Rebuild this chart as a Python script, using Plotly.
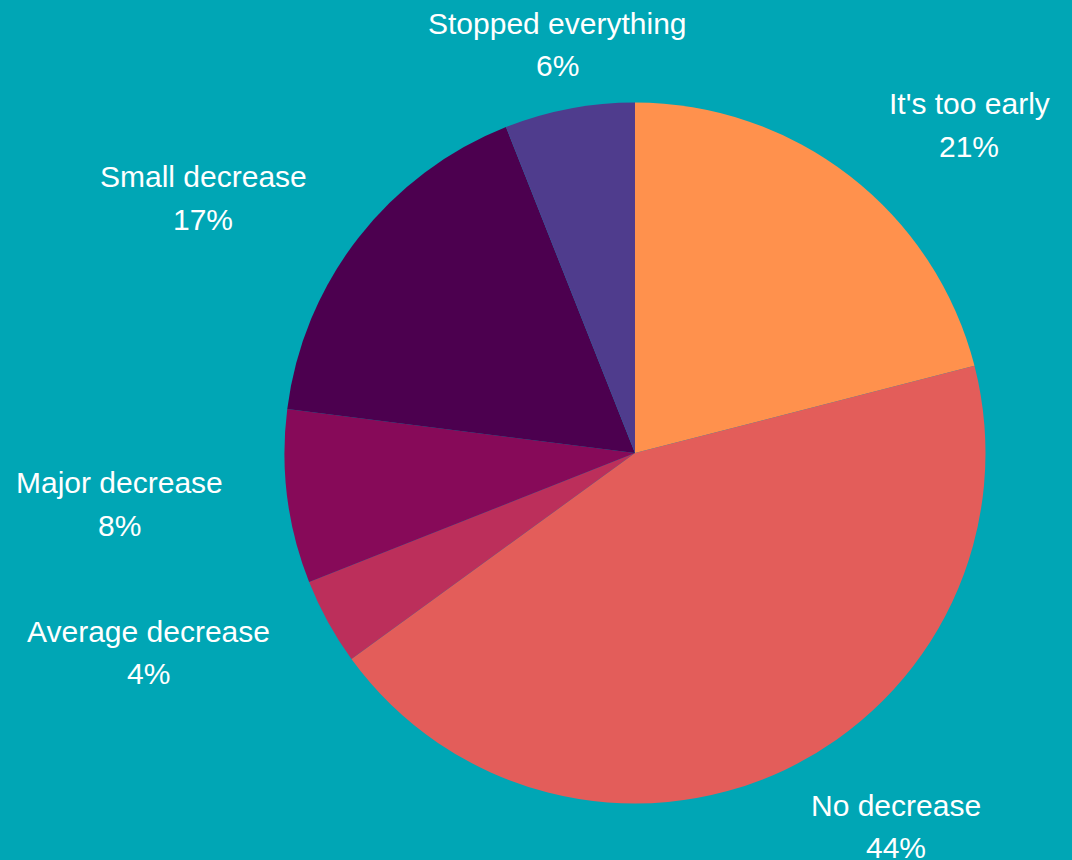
import plotly.graph_objects as go

# Survey answers, clockwise from 12 o'clock
categories = ["It's too early", "No decrease", "Average decrease",
              "Major decrease", "Small decrease", "Stopped everything"]
shares = [21, 44, 4, 8, 17, 6]

slice_colors = ["#FF914D", "#E35D5A", "#BC2F5B", "#870A59", "#4C004F", "#4F3C8D"]
background = "#00A6B5"

W, H = 1072, 860
# pie centre and radius in pixels
cx, cy, r = 635, 453, 350.5

# label anchor per slice: (centre x, first-line baseline y) in pixels
label_pos = [(969, 114), (896, 815), (148.5, 641), (119, 493), (203, 187), (557, 33)]
line_gap = 42
font_size = 30

fig = go.Figure(go.Pie(
    labels=categories,
    values=shares,
    sort=False,
    direction="clockwise",
    rotation=0,
    textinfo="none",
    hoverinfo="label+percent",
    marker=dict(colors=slice_colors, line=dict(width=0)),
    domain=dict(x=[(cx - r) / W, (cx + r) / W],
                y=[(H - cy - r) / H, (H - cy + r) / H]),
    showlegend=False,
))

annotations = []
for name, val, (lx, base) in zip(categories, shares, label_pos):
    for i, txt in enumerate([name, f"{val}%"]):
        b = base + i * line_gap
        annotations.append(dict(
            text=txt, x=lx / W, y=1 - (b - 10) / H,
            xref="paper", yref="paper", xanchor="center", yanchor="middle",
            showarrow=False,
            font=dict(family="Liberation Sans, Arial, sans-serif", size=font_size, color="white"),
        ))

fig.update_layout(
    width=W, height=H,
    margin=dict(l=0, r=0, t=0, b=0),
    paper_bgcolor=background,
    plot_bgcolor=background,
    annotations=annotations,
)

fig.write_html("out.html")
